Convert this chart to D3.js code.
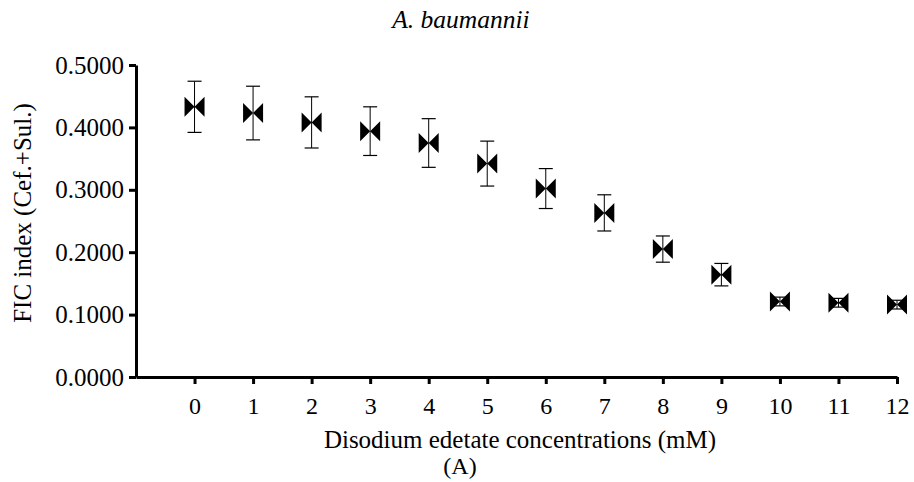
<!DOCTYPE html>
<html>
<head>
<meta charset="utf-8">
<script src="https://cdn.jsdelivr.net/npm/d3@7"></script>
<style>
  body { margin: 0; background: #fff; }
  text { font-family: "Liberation Serif", "Times New Roman", serif; fill: #000; }
</style>
</head>
<body>
<svg id="chart" width="914" height="482"></svg>
<script>
// Data
const concentrations = [0, 1, 2, 3, 4, 5, 6, 7, 8, 9, 10, 11, 12];
const ficMeans = [0.433, 0.423, 0.408, 0.394, 0.375, 0.342, 0.302, 0.263, 0.205, 0.164, 0.121, 0.119, 0.116];
const ficErrors = [0.041, 0.043, 0.041, 0.039, 0.039, 0.036, 0.032, 0.029, 0.021, 0.018, 0.007, 0.007, 0.007];
const yTicks = [0, 0.1, 0.2, 0.3, 0.4, 0.5];

const svg = d3.select("#chart");
const mLeft = 136, mRight = 897, mTop = 65, mBottom = 377;

const x = d3.scaleLinear().domain([-1, 12]).range([mLeft, mRight]);
const y = d3.scaleLinear().domain([0, 0.5]).range([mBottom, mTop]);

// Y axis
const yAxis = svg.append("g").attr("transform", `translate(${mLeft},0)`)
  .call(d3.axisLeft(y).tickValues(yTicks).tickFormat(d3.format(".4f")).tickSize(7).tickSizeOuter(0));
yAxis.attr("font-family", null);
yAxis.select(".domain").attr("stroke", "#000").attr("stroke-width", 3);
yAxis.selectAll(".tick line").attr("stroke", "#000").attr("stroke-width", 3);
yAxis.selectAll(".tick text").attr("font-size", 25).attr("x", -12);

// X axis
const xAxis = svg.append("g").attr("transform", `translate(0,${mBottom})`)
  .call(d3.axisBottom(x).tickValues(concentrations).tickFormat(d3.format("d")).tickSize(7).tickSizeOuter(0));
xAxis.attr("font-family", null);
xAxis.select(".domain").attr("stroke", "#000").attr("stroke-width", 3);
xAxis.selectAll(".tick line").attr("stroke", "#000").attr("stroke-width", 3);
xAxis.selectAll(".tick text").attr("font-size", 24).attr("y", 20);

// Error bars
const eb = svg.append("g");
concentrations.forEach((c, i) => {
  const cx = x(c);
  const yt = y(ficMeans[i] + ficErrors[i]);
  const yb = y(ficMeans[i] - ficErrors[i]);
  eb.append("line").attr("x1", cx).attr("x2", cx).attr("y1", yt).attr("y2", yb).attr("stroke", "#000").attr("stroke-width", 1);
  eb.append("line").attr("x1", cx - 7).attr("x2", cx + 7).attr("y1", yt).attr("y2", yt).attr("stroke", "#000").attr("stroke-width", 1.2);
  eb.append("line").attr("x1", cx - 7).attr("x2", cx + 7).attr("y1", yb).attr("y2", yb).attr("stroke", "#000").attr("stroke-width", 1.2);
});

// Bowtie markers
const half = 10;
const bow = `M${-half},${-half}L0,0L${-half},${half}Z M${half},${-half}L0,0L${half},${half}Z`;
svg.append("g").selectAll("path").data(concentrations).join("path")
  .attr("transform", (d, i) => `translate(${x(d)},${y(ficMeans[i])})`)
  .attr("d", bow)
  .attr("fill", "#000");

// Title
svg.append("text").attr("x", 461).attr("y", 28).attr("text-anchor", "middle")
  .attr("font-size", 25.5).attr("font-style", "italic").text("A. baumannii");

// X label
svg.append("text").attr("x", 520).attr("y", 448).attr("text-anchor", "middle")
  .attr("font-size", 25).text("Disodium edetate concentrations (mM)");
svg.append("text").attr("x", 460).attr("y", 474).attr("text-anchor", "middle")
  .attr("font-size", 24).text("(A)");

// Y label
svg.append("text").attr("transform", "translate(31,213) rotate(-90)").attr("text-anchor", "middle")
  .attr("font-size", 25).text("FIC index (Cef.+Sul.)");
</script>
</body>
</html>
